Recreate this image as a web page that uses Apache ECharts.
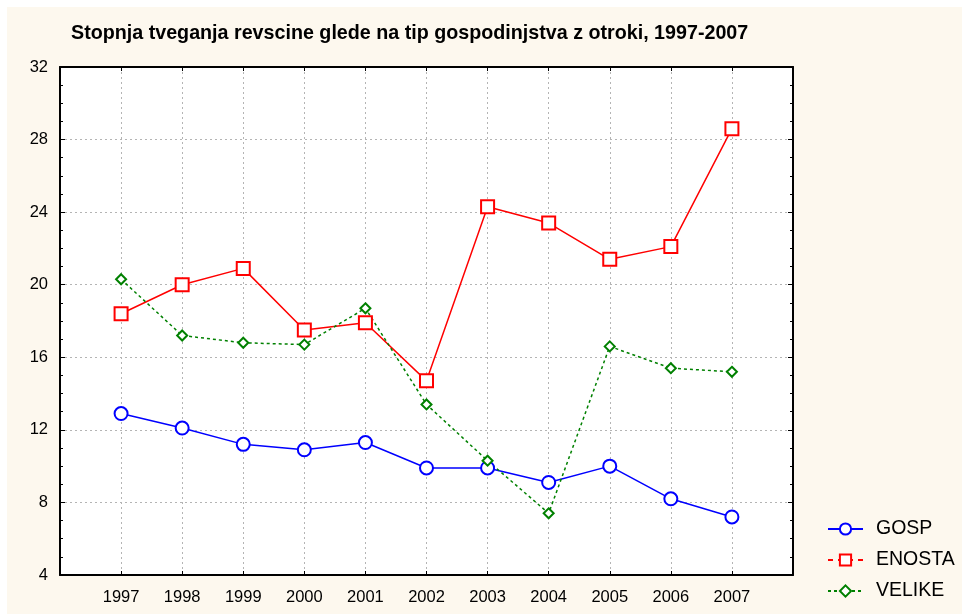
<!DOCTYPE html>
<html lang="sl">
<head>
<meta charset="UTF-8">
<title>Stopnja tveganja revscine</title>
<style>
    html, body {margin: 0; padding: 0; background: #fff;}
    #chart {width: 962px; height: 616px;}
</style>
</head>
<body>
<div id="chart"></div>
<script src="https://cdn.jsdelivr.net/npm/echarts@6/dist/echarts.min.js"></script>
<script>
// podatki
const years = [1997, 1998, 1999, 2000, 2001, 2002, 2003, 2004, 2005, 2006, 2007];
const gosp   = [12.9, 12.1, 11.2, 10.9, 11.3, 9.9, 9.9, 9.1, 10.0, 8.2, 7.2];
const enosta = [18.4, 20.0, 20.9, 17.5, 17.9, 14.7, 24.3, 23.4, 21.4, 22.1, 28.6];
const velike = [20.3, 17.2, 16.8, 16.7, 18.7, 13.4, 10.3, 7.4, 16.6, 15.4, 15.2];
const yTicks = [4, 8, 12, 16, 20, 24, 28, 32];

const font = 'Arial, "Liberation Sans", sans-serif';
const chart = echarts.init(document.getElementById('chart'));

function pairs(vals) {
    return years.map((y, i) => [y, vals[i]]);
}

const grid = {left: 60, right: 169, top: 67, bottom: 41};

chart.setOption({
    animation: false,
    backgroundColor: '#ffffff',
    graphic: [{
        type: 'rect', z: -10,
        shape: {x: 7, y: 7, width: 955, height: 607},
        style: {fill: '#fdf8ee'}
    }],
    title: {
        text: 'Stopnja tveganja revscine glede na tip gospodinjstva z otroki, 1997-2007',
        left: 66, top: 19,
        textStyle: {fontFamily: font, fontSize: 19.7, fontWeight: 'bold', color: '#000'}
    },
    legend: {
        orient: 'vertical',
        left: 827, top: 519,
        padding: 0,
        itemWidth: 35, itemHeight: 14,
        itemGap: 11,
        textStyle: {fontFamily: font, fontSize: 19.5, color: '#000', padding: [0, 0, 0, 8]},
        data: [
            {name: 'GOSP'},
            {name: 'ENOSTA', lineStyle: {type: [5, 5]}},
            {name: 'VELIKE'}
        ]
    },
    grid: Object.assign({backgroundColor: '#fff', show: true, borderWidth: 0}, grid),
    xAxis: [{
        type: 'value',
        min: 1996, max: 2008, interval: 1,
        axisLine: {show: true, lineStyle: {color: '#000', width: 2}},
        axisTick: {show: true, inside: true, length: 4, lineStyle: {color: '#000'}},
        axisLabel: {
            fontFamily: font, fontSize: 16.5, color: '#000', margin: 14,
            formatter: v => (v === 1996 || v === 2008) ? '' : String(v)
        },
        splitLine: {show: true, lineStyle: {color: '#b4b4b4', type: [2, 3]}}
    }, {
        type: 'value', position: 'top',
        min: 1996, max: 2008, interval: 1,
        axisLine: {show: true, lineStyle: {color: '#000', width: 2}},
        axisTick: {show: true, inside: true, length: 4, lineStyle: {color: '#000'}},
        axisLabel: {show: false},
        splitLine: {show: false}
    }],
    yAxis: [{
        type: 'value',
        min: yTicks[0], max: yTicks[yTicks.length - 1], interval: 4,
        axisLine: {show: true, lineStyle: {color: '#000', width: 2}},
        axisTick: {show: true, inside: true, length: 5, lineStyle: {color: '#000'}},
        minorTick: {show: true, splitNumber: 4, length: 3, lineStyle: {color: '#000'}},
        axisLabel: {fontFamily: font, fontSize: 16.5, color: '#000', margin: 12},
        splitLine: {show: true, lineStyle: {color: '#b4b4b4', type: [2, 3]}}
    }, {
        type: 'value', position: 'right',
        min: yTicks[0], max: yTicks[yTicks.length - 1], interval: 4,
        axisLine: {show: true, lineStyle: {color: '#000', width: 2}},
        axisTick: {show: true, inside: true, length: 5, lineStyle: {color: '#000'}},
        minorTick: {show: true, splitNumber: 4, length: 3, lineStyle: {color: '#000'}},
        axisLabel: {show: false},
        splitLine: {show: false}
    }],
    series: [{
        name: 'GOSP', type: 'line',
        data: pairs(gosp),
        symbol: 'emptyCircle', symbolSize: 13,
        lineStyle: {color: '#0000ff', width: 1.5},
        itemStyle: {color: '#0000ff', borderWidth: 1.5}
    }, {
        name: 'ENOSTA', type: 'line',
        data: pairs(enosta),
        symbol: 'emptyRect', symbolSize: 13,
        lineStyle: {color: '#ff0000', width: 1.5},
        itemStyle: {color: '#ff0000', borderWidth: 1.5}
    }, {
        name: 'VELIKE', type: 'line',
        data: pairs(velike),
        symbol: 'emptyDiamond', symbolSize: 10,
        lineStyle: {color: '#008000', width: 1.5, type: [3, 3]},
        itemStyle: {color: '#008000', borderWidth: 1.5}
    }]
});
</script>
</body>
</html>
